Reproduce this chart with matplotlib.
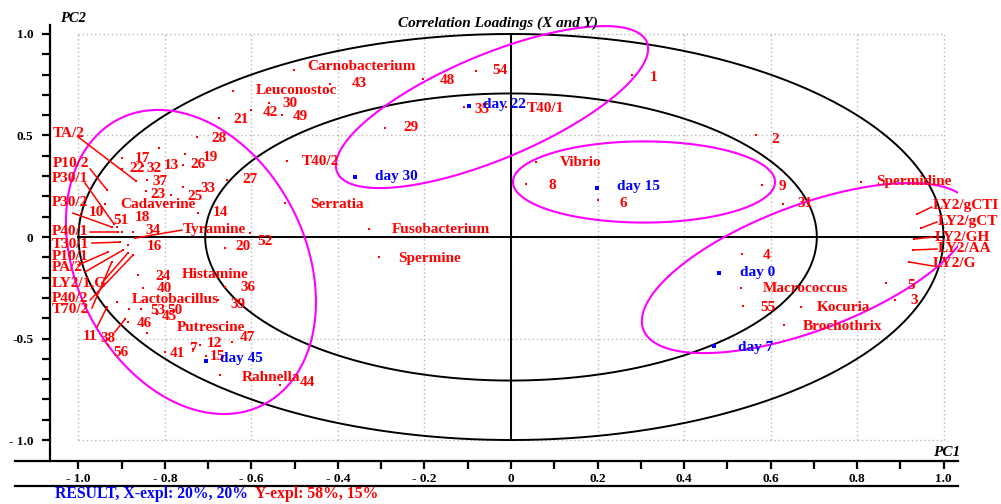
import numpy as np
import matplotlib
matplotlib.use('Agg')
import matplotlib.pyplot as plt

plt.rcParams['font.family'] = ['Liberation Serif', 'DejaVu Serif']

# ---------------- data: correlation loadings (red variables) ----------------
var_names = ['1', '2', '3', '4', '5', '6', '7', '8', '9', '10',
             '11', '12', '13', '14', '15', '16', '17', '18', '19', '20',
             '21', '22', '23', '24', '25', '26', '27', '28', '29', '30',
             '31', '32', '33', '34', '35', '36', '37', '38', '39', '40',
             '41', '42', '43', '44', '45', '46', '47', '48', '49', '50',
             '51', '52', '53', '54', '55', '56',
             'Carnobacterium', 'Leuconostoc', 'Serratia', 'Fusobacterium', 'Spermine',
             'Vibrio', 'Spermidine', 'Macrococcus', 'Kocuria', 'Brochothrix', 'Rahnella',
             'Cadaverine', 'Tyramine', 'Histamine', 'Lactobacillus', 'Putrescine',
             'T40/2', 'T40/1', 'TA/2', 'P10/2', 'P30/1', 'P30/2', 'P40/1', 'T30/1',
             'P10/1', 'PA/2', 'LY2/1,G', 'P40/2', 'T70/2',
             'LY2/gCTI', 'LY2/gCT', 'LY2/GH', 'LY2/AA', 'LY2/G']
var_pc1 = [0.280, 0.566, 0.888, 0.534, 0.867, 0.201, -0.735, 0.035, 0.580, -0.992,
           -0.934, -0.719, -0.814, -0.724, -0.705, -0.886, -0.899, -0.899, -0.754, -0.661,
           -0.675, -0.899, -0.844, -0.862, -0.786, -0.758, -0.657, -0.726, -0.291, -0.560,
           0.629, -0.851, -0.758, -0.874, -0.109, -0.661, -0.842, -0.892, -0.677, -0.851,
           -0.800, -0.601, -0.418, -0.534, -0.818, -0.886, -0.645, -0.203, -0.529, -0.883,
           -0.911, -0.603, -0.855, -0.081, 0.536, -0.932,
           -0.502, -0.643, -0.523, -0.328, -0.305,
           0.058, 0.809, 0.532, 0.671, 0.631, -0.673,
           -0.939, -0.869, -0.805, -0.911, -0.842,
           -0.518, -0.012, -0.867, -0.934, -0.918, -0.923, -0.909, -0.904,
           -0.932, -0.897, -0.886, -0.874, -0.923,
           0.939, 0.948, 0.932, 0.929, 0.920]
var_pc2 = [0.798, 0.502, -0.310, -0.084, -0.227, 0.182, -0.552, 0.261, 0.256, 0.123,
           -0.345, -0.532, 0.438, 0.118, -0.586, -0.039, 0.389, 0.025, 0.409, -0.054,
           0.586, 0.335, 0.227, -0.187, 0.207, 0.355, 0.281, 0.493, 0.537, 0.660,
           0.163, 0.350, 0.246, 0.025, 0.640, -0.246, 0.281, -0.404, -0.310, -0.251,
           -0.567, 0.626, 0.754, -0.729, -0.379, -0.419, -0.517, 0.778, 0.601, -0.355,
           0.049, 0.020, -0.355, 0.818, -0.340, -0.532,
           0.823, 0.719, 0.167, 0.039, -0.099,
           0.369, 0.271, -0.251, -0.345, -0.433, -0.680,
           0.163, -0.005, -0.197, -0.320, -0.473,
           0.374, 0.640, 0.276, 0.232, 0.064, 0.049, 0.025, -0.025,
           -0.074, -0.064, -0.079, -0.089, -0.123,
           0.113, 0.044, -0.010, -0.064, -0.123]
# label offsets (pixels) from each point
var_dx = [18, 16, 15, 21, 21, 22, -4, 22, 17, 7,
          -24, 7, 5, 15, 4, 19, 13, 13, 18, 10,
          14, 7, 4, 17, 16, 7, 16, 14, 18, 14,
          14, 4, 17, 12, 11, 15, 6, -25, 12, 14,
          5, 12, 22, 20, 5, 9, 8, 17, 11, 38,
          -4, 7, 9, 16, 17, 5,
          13, 23, 25, 23, 19,
          24, 15, 22, 16, 19, 22,
          15, 48, 19, 15, 30,
          15, 21, -83, -54, -62, -60, -66, -68,
          -56, -71, -76, -81, -60,
          16, 17, 21, 25, 24]
var_dy = [-2, -4, -1, -1, -2, -3, 1, -1, -1, 0,
          -29, 2, -17, 1, -1, -2, 0, 14, -4, 1,
          -1, 0, -4, -2, -2, 0, 0, -2, 0, 0,
          0, -3, -1, 1, -2, -1, -2, -19, -5, -1,
          -1, -3, 0, 2, -3, -1, 4, -1, -2, -1,
          7, -9, -1, 0, -1, -7,
          3, 1, -1, 0, -1,
          0, 0, -1, 0, -2, -2,
          -1, 9, 2, 2, 6,
          0, -1, 47, 26, 46, 25, 0, -2,
          -4, -18, -30, -43, -48,
          9, 7, 2, 1, -2]

# leader lines: label -> start point of the line (ends at the point)
leader_names = ['TA/2', 'P10/2', 'P30/1', 'P30/2', 'P40/1', 'T30/1', 'P10/1', 'PA/2',
                'LY2/1,G', 'P40/2', 'T70/2', '11', '38', 'Tyramine',
                'LY2/gCTI', 'LY2/gCT', 'LY2/GH', 'LY2/AA', 'LY2/G']
leader_x = [-1.001, -0.973, -0.985, -1.013, -0.973, -0.969, -1.001, -0.985,
            -0.946, -0.973, -0.969, -0.957, -0.916, -0.761,
            0.973, 0.985, 0.976, 0.985, 0.976]
leader_y = [0.493, 0.335, 0.266, 0.118, 0.025, -0.030, -0.138, -0.172,
            -0.227, -0.310, -0.350, -0.443, -0.468, 0.034,
            0.148, 0.074, 0.000, -0.059, -0.143]

# ---------------- data: X loadings (blue, storage days) ----------------
day_names = ['day 0', 'day 7', 'day 15', 'day 22', 'day 30', 'day 45']
day_pc1 = [0.481, 0.469, 0.199, -0.097, -0.361, -0.705]
day_pc2 = [-0.177, -0.537, 0.241, 0.645, 0.296, -0.611]
day_dx = [21, 24, 20, 14, 20, 14]
day_dy = [0, -1, 2, 2, 0, 3]

# group ellipses: centre, half extents, correlation
ell_cx = [-0.740, -0.044, 0.3075, 0.684]
ell_cy = [-0.123, 0.640, 0.271, -0.153]
ell_rx = [0.289, 0.361, 0.303, 0.3815]
ell_ry = [0.749, 0.399, 0.200, 0.419]
ell_rho = [-0.263, 0.72, 0.0, 0.624]

x_ticks = [-1.0, -0.8, -0.6, -0.4, -0.2, 0.0, 0.2, 0.4, 0.6, 0.8, 1.0]
x_ticklabels = ['- 1.0', '- 0.8', '- 0.6', '- 0.4', '- 0.2', '0', '0.2', '0.4', '0.6', '0.8', '1.0']
y_ticks = [-1.0, -0.5, 0.0, 0.5, 1.0]
y_ticklabels = ['- 1.0', '-0.5', '0', '0.5', '1.0']

RED = '#ff0000'
BLUE = '#0000ff'
MAG = '#ff00ff'

W, H = 1001, 504
fig = plt.figure(figsize=(W / 100, H / 100), dpi=100)
ax = fig.add_axes([15 / W, (H - 461) / H, (958 - 15) / W, (461 - 25) / H])
ax.set_xlim(-1.1468, 1.0335)
ax.set_ylim(-1.1034, 1.0443)

for s in ['top', 'right']:
    ax.spines[s].set_visible(False)
ax.spines['left'].set_position(('data', -1.0659))
ax.spines['left'].set_linewidth(1.6)
ax.spines['bottom'].set_linewidth(1.6)

# grid
grid_kw = dict(color='#b8b8b8', lw=1.0, ls=(0, (1, 2)), zorder=0)
for gx in x_ticks:
    ax.plot([gx, gx], [-1, 1], **grid_kw)
for gy in y_ticks:
    ax.plot([-1, 1], [gy, gy], **grid_kw)

# circles
t = np.linspace(0, 2 * np.pi, 600)
for r in [1.0, np.sqrt(0.5)]:
    ax.plot(r * np.cos(t), r * np.sin(t), color='black', lw=1.4, zorder=1)
ax.plot([-1, 1], [0, 0], color='black', lw=1.4, zorder=1)
ax.plot([0, 0], [-1, 1], color='black', lw=1.4, zorder=1)

# magenta ellipses
for cx, cy, rx, ry, rho in zip(ell_cx, ell_cy, ell_rx, ell_ry, ell_rho):
    phi = np.arccos(rho)
    ax.plot(cx + rx * np.cos(t), cy + ry * np.cos(t - phi), color=MAG, lw=1.5, zorder=2)

# leader lines
idx = {n: i for i, n in enumerate(var_names)}
for n, sx, sy in zip(leader_names, leader_x, leader_y):
    i = idx[n]
    ax.plot([sx, var_pc1[i]], [sy, var_pc2[i]], color=RED, lw=1.1, zorder=3)

# points
ax.plot(var_pc1, var_pc2, 's', color=RED, ms=2.0, mew=0, zorder=4)
ax.plot(day_pc1, day_pc2, 's', color=BLUE, ms=2.2, mew=0, zorder=4)

lab_kw = dict(textcoords='offset pixels', ha='left', va='center',
              fontsize=11, fontweight='bold', zorder=5)
for n, x, y, dx, dy in zip(var_names, var_pc1, var_pc2, var_dx, var_dy):
    ax.annotate(n, (x, y), xytext=(dx, dy), color=RED, **lab_kw)
for n, x, y, dx, dy in zip(day_names, day_pc1, day_pc2, day_dx, day_dy):
    ax.annotate(n, (x, y), xytext=(dx, dy), color=BLUE, **lab_kw)

# ticks
ax.set_xticks(x_ticks)
ax.set_xticklabels(x_ticklabels, fontweight='bold')
ax.set_xticks(np.arange(-0.9, 1.0, 0.2), minor=True)
ax.set_yticks(y_ticks)
ax.set_yticklabels(y_ticklabels, fontweight='bold')
ax.set_yticks(np.arange(-1.0, 1.05, 0.1), minor=True)
ax.tick_params(axis='both', which='both', direction='out', length=6, width=1.6,
               labelsize=9.5, color='black')
ax.tick_params(axis='x', which='both', pad=3)
ax.tick_params(axis='y', which='both', pad=6)

# second baseline under tick labels
ax.plot([0, 1], [-25 / 436, -25 / 436], transform=ax.transAxes, color='black',
        lw=1.6, clip_on=False)

fig.text(498 / W, 1 - 23 / H, 'Correlation Loadings (X and Y)', ha='center', va='center',
         fontsize=11, fontweight='bold', style='italic')
fig.text(60 / W, 1 - 19 / H, 'PC2', ha='left', va='center',
         fontsize=10.5, fontweight='bold', style='italic')
fig.text(960 / W, 1 - 452 / H, 'PC1', ha='right', va='center',
         fontsize=11, fontweight='bold', style='italic')
fig.text(55 / W, 1 - 494 / H, 'RESULT, X-expl: 20%, 20%', ha='left', va='center',
         fontsize=11.3, fontweight='bold', color=BLUE)
fig.text(255 / W, 1 - 494 / H, 'Y-expl: 58%, 15%', ha='left', va='center',
         fontsize=11.3, fontweight='bold', color=RED)

fig.savefig('out.png', dpi=100)
